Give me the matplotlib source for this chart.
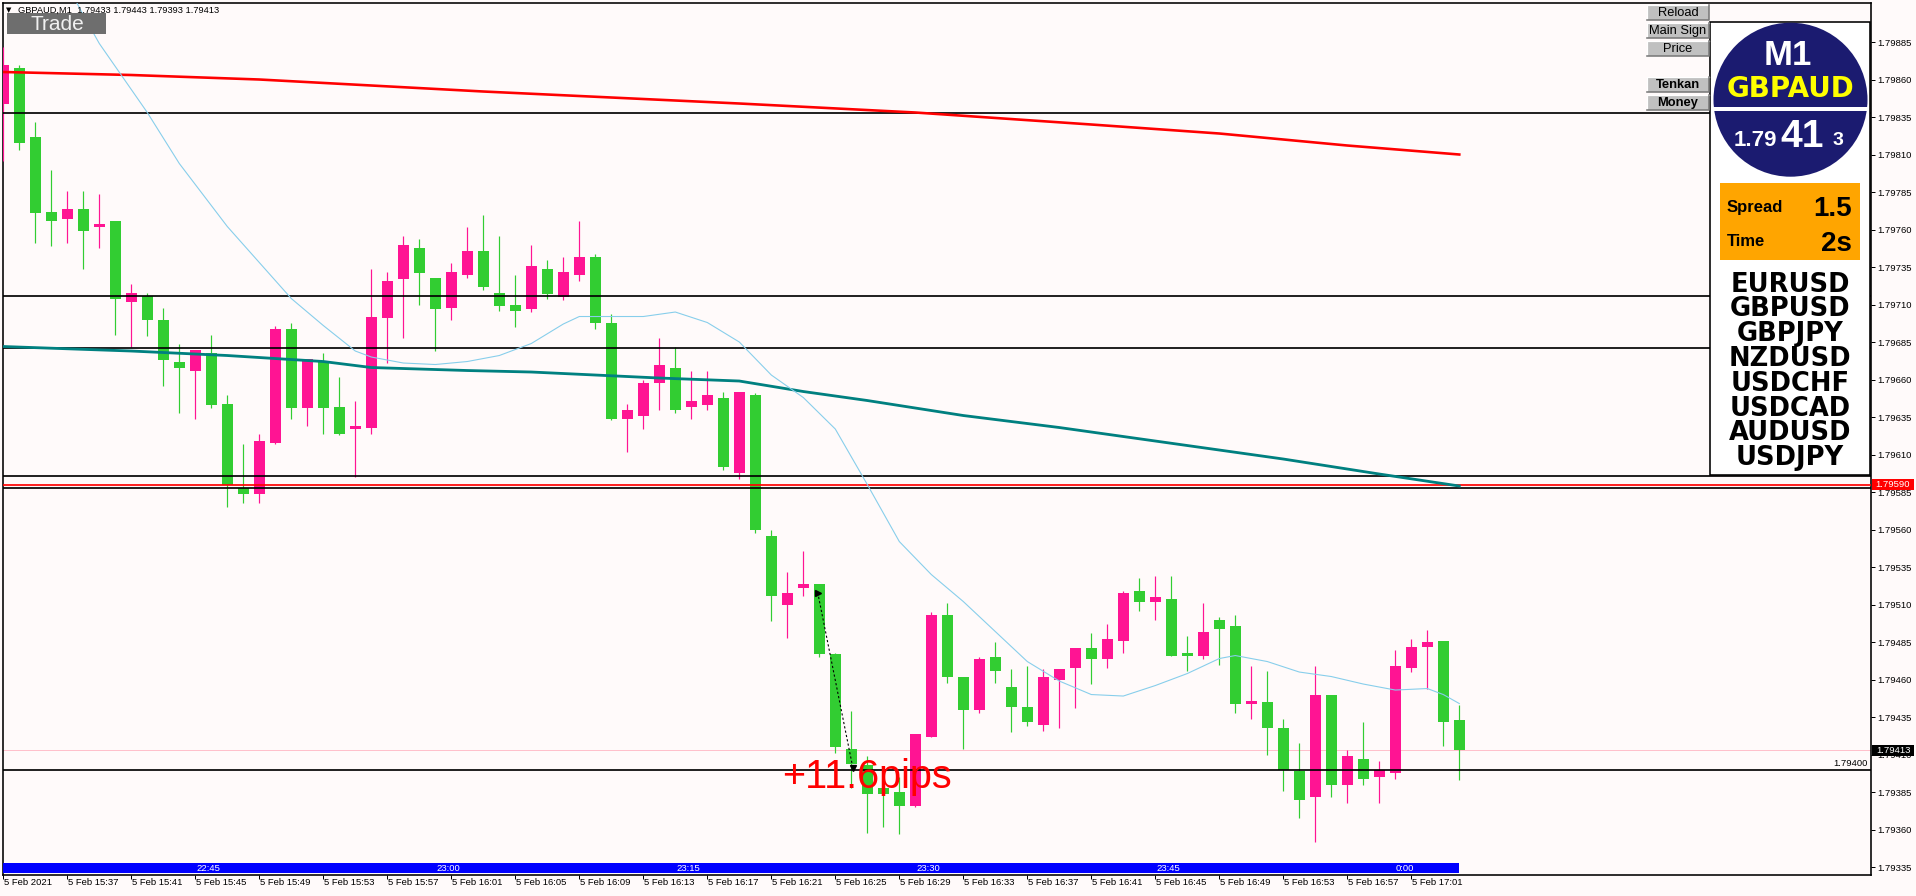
import matplotlib
matplotlib.use("Agg")
import matplotlib.pyplot as plt
from matplotlib.patches import Rectangle, Circle
import numpy as np

plt.rcParams['font.family'] = ['Liberation Sans', 'DejaVu Sans']

# ---------------- data ----------------
symbol = "GBPAUD"
timeframe = "M1"
header_ohlc = ["1.79433", "1.79443", "1.79393", "1.79413"]

opens = [1.79844, 1.79868, 1.79822, 1.79772, 1.79767, 1.79774, 1.79762, 1.79766, 1.79712, 1.79716,
         1.79700, 1.79672, 1.79666, 1.79678, 1.79644, 1.79588, 1.79584, 1.79618, 1.79694, 1.79641,
         1.79672, 1.79642, 1.79627, 1.79628, 1.79701, 1.79727, 1.79748, 1.79728, 1.79708, 1.79730,
         1.79746, 1.79718, 1.79710, 1.79707, 1.79734, 1.79715, 1.79730, 1.79742, 1.79698, 1.79634,
         1.79636, 1.79658, 1.79668, 1.79642, 1.79643, 1.79648, 1.79598, 1.79650, 1.79556, 1.79510,
         1.79521, 1.79524, 1.79477, 1.79414, 1.79403, 1.79388, 1.79385, 1.79376, 1.79422, 1.79503,
         1.79462, 1.79440, 1.79475, 1.79455, 1.79442, 1.79430, 1.79460, 1.79468, 1.79481, 1.79474,
         1.79486, 1.79519, 1.79512, 1.79514, 1.79478, 1.79476, 1.79500, 1.79496, 1.79444, 1.79445,
         1.79428, 1.79399, 1.79382, 1.79450, 1.79390, 1.79407, 1.79395, 1.79398, 1.79468, 1.79482,
         1.79486, 1.79433]
highs = [1.79882, 1.79870, 1.79832, 1.79800, 1.79786, 1.79786, 1.79784, 1.79766, 1.79724, 1.79718,
         1.79708, 1.79684, 1.79680, 1.79690, 1.79650, 1.79617, 1.79624, 1.79696, 1.79698, 1.79674,
         1.79678, 1.79662, 1.79646, 1.79734, 1.79732, 1.79756, 1.79754, 1.79728, 1.79738, 1.79762,
         1.79770, 1.79756, 1.79730, 1.79750, 1.79740, 1.79742, 1.79766, 1.79744, 1.79704, 1.79644,
         1.79660, 1.79688, 1.79682, 1.79666, 1.79666, 1.79652, 1.79652, 1.79651, 1.79560, 1.79532,
         1.79546, 1.79524, 1.79478, 1.79439, 1.79409, 1.79396, 1.79395, 1.79424, 1.79505, 1.79511,
         1.79462, 1.79475, 1.79485, 1.79467, 1.79469, 1.79467, 1.79467, 1.79481, 1.79491, 1.79497,
         1.79519, 1.79528, 1.79529, 1.79529, 1.79489, 1.79511, 1.79502, 1.79503, 1.79469, 1.79466,
         1.79434, 1.79418, 1.79469, 1.79450, 1.79413, 1.79432, 1.79406, 1.79480, 1.79487, 1.79493,
         1.79486, 1.79443]
lows = [1.79806, 1.79813, 1.79751, 1.79749, 1.79751, 1.79734, 1.79748, 1.79690, 1.79682, 1.79689,
        1.79656, 1.79638, 1.79634, 1.79641, 1.79575, 1.79578, 1.79578, 1.79617, 1.79634, 1.79629,
        1.79624, 1.79623, 1.79595, 1.79624, 1.79671, 1.79688, 1.79710, 1.79679, 1.79700, 1.79728,
        1.79720, 1.79706, 1.79695, 1.79705, 1.79714, 1.79713, 1.79726, 1.79694, 1.79633, 1.79612,
        1.79627, 1.79640, 1.79638, 1.79634, 1.79640, 1.79600, 1.79594, 1.79558, 1.79499, 1.79488,
        1.79516, 1.79475, 1.79411, 1.79388, 1.79358, 1.79362, 1.79357, 1.79375, 1.79422, 1.79458,
        1.79414, 1.79438, 1.79458, 1.79425, 1.79429, 1.79426, 1.79428, 1.79441, 1.79457, 1.79468,
        1.79478, 1.79506, 1.79500, 1.79476, 1.79466, 1.79474, 1.79470, 1.79438, 1.79434, 1.79410,
        1.79386, 1.79368, 1.79352, 1.79382, 1.79378, 1.79390, 1.79378, 1.79394, 1.79465, 1.79454,
        1.79416, 1.79393]
closes = [1.79870, 1.79818, 1.79771, 1.79766, 1.79774, 1.79759, 1.79764, 1.79714, 1.79718, 1.79700,
          1.79673, 1.79668, 1.79680, 1.79643, 1.79590, 1.79584, 1.79619, 1.79694, 1.79641, 1.79674,
          1.79641, 1.79624, 1.79629, 1.79702, 1.79726, 1.79750, 1.79731, 1.79707, 1.79732, 1.79746,
          1.79722, 1.79709, 1.79706, 1.79736, 1.79717, 1.79732, 1.79742, 1.79698, 1.79634, 1.79640,
          1.79658, 1.79670, 1.79640, 1.79646, 1.79650, 1.79602, 1.79652, 1.79560, 1.79516, 1.79518,
          1.79524, 1.79477, 1.79415, 1.79404, 1.79384, 1.79384, 1.79376, 1.79424, 1.79503, 1.79462,
          1.79440, 1.79474, 1.79466, 1.79442, 1.79432, 1.79462, 1.79467, 1.79481, 1.79474, 1.79487,
          1.79518, 1.79512, 1.79515, 1.79476, 1.79476, 1.79492, 1.79494, 1.79444, 1.79446, 1.79428,
          1.79400, 1.79380, 1.79450, 1.79390, 1.79409, 1.79394, 1.79400, 1.79469, 1.79482, 1.79485,
          1.79432, 1.79413]

time_label_bars = list(range(0, 89, 4))
time_labels = ["5 Feb 2021", "5 Feb 15:37", "5 Feb 15:41", "5 Feb 15:45", "5 Feb 15:49",
               "5 Feb 15:53", "5 Feb 15:57", "5 Feb 16:01", "5 Feb 16:05", "5 Feb 16:09",
               "5 Feb 16:13", "5 Feb 16:17", "5 Feb 16:21", "5 Feb 16:25", "5 Feb 16:29",
               "5 Feb 16:33", "5 Feb 16:37", "5 Feb 16:41", "5 Feb 16:45", "5 Feb 16:49",
               "5 Feb 16:53", "5 Feb 16:57", "5 Feb 17:01"]
session_label_bars = [12, 27, 42, 57, 72, 87]
session_labels = ["22:45", "23:00", "23:15", "23:30", "23:45", "0:00"]

price_ticks = [1.79335, 1.79360, 1.79385, 1.79410, 1.79435, 1.79460, 1.79485, 1.79510,
               1.79535, 1.79560, 1.79585, 1.79610, 1.79635, 1.79660, 1.79685, 1.79710,
               1.79735, 1.79760, 1.79785, 1.79810, 1.79835, 1.79860, 1.79885]

ma_fast_bars = [0, 3, 5, 6, 9, 11, 14, 16, 18, 20, 22, 23, 25, 27, 29, 31, 33, 35, 36, 38, 40, 42,
                44, 46, 48, 50, 52, 54, 56, 58, 60, 62, 64, 66, 68, 70, 72, 74, 76, 77, 79, 81,
                83, 85, 87, 89, 90, 91]
ma_fast_vals = [1.79986, 1.79943, 1.79903, 1.79884, 1.79838, 1.79804, 1.79762, 1.79738, 1.79714,
                1.79696, 1.79679, 1.79675, 1.79671, 1.79670, 1.79672, 1.79676, 1.79684, 1.79697,
                1.79702, 1.79702, 1.79702, 1.79705, 1.79698, 1.79685, 1.79663, 1.79648, 1.79627,
                1.79590, 1.79552, 1.79530, 1.79512, 1.79492, 1.79472, 1.79459, 1.79450, 1.79449,
                1.79456, 1.79464, 1.79474, 1.79476, 1.79472, 1.79465, 1.79462, 1.79457, 1.79453,
                1.79454, 1.79450, 1.79444]
ma_mid_bars = [0, 8, 14, 20, 23, 29, 33, 37, 41, 46, 50, 54, 60, 66, 68, 74, 80, 86, 91]
ma_mid_vals = [1.79682, 1.79679, 1.79676, 1.79672, 1.79668, 1.79666, 1.79665, 1.79663, 1.79661,
               1.79659, 1.79652, 1.79646, 1.79636, 1.79628, 1.79625, 1.79616, 1.79607, 1.79597,
               1.79589]
ma_slow_bars = [0, 8, 16, 23, 30, 38, 46, 57, 68, 76, 84, 91]
ma_slow_vals = [1.79865, 1.79863, 1.79860, 1.79856, 1.79852, 1.79848, 1.79844, 1.79838, 1.79830,
                1.79824, 1.79816, 1.79810]

black_levels = [1.79838, 1.79716, 1.79681, 1.79596, 1.79588, 1.79400]
red_level = 1.79590
bid_price = 1.79413
labelled_level = 1.79400

trade_bars = [50.9, 53.1]
trade_prices = [1.79518, 1.79401]
trade_text = "+11.6pips"

buttons = ["Reload", "Main Sign", "Price", "Tenkan", "Money"]
watch_list = ["EURUSD", "GBPUSD", "GBPJPY", "NZDUSD", "USDCHF", "USDCAD", "AUDUSD", "USDJPY"]
spread_text = "1.5"
time_text = "2s"
price_big = ["1.79", "41", "3"]

# ---------------- style / layout ----------------
W, H, DPI = 1916, 896, 100
BG = "#FFFAFA"
GREEN = "#32CD32"
PINK = "#FF1493"
PX = 72.0 / DPI  # points per pixel
SMALL = 6.8

PL, PR, PT, PB = 3, 1871, 3, 875
BAR_PX, X0_PX = 16.0, 3.3
Y_TOP, Y_BOT = 1.79911, 1.793297

fig = plt.figure(figsize=(W / DPI, H / DPI), dpi=DPI, facecolor=BG)
ax = fig.add_axes([PL / W, 1 - PB / H, (PR - PL) / W, (PB - PT) / H])
ax.set_facecolor(BG)
ax.set_xlim((PL - X0_PX) / BAR_PX, (PR - X0_PX) / BAR_PX)
ax.set_ylim(Y_BOT, Y_TOP)

n = len(opens)
idx = np.arange(n)
o = np.array(opens); h = np.array(highs); l = np.array(lows); c = np.array(closes)
cols = np.where(c >= o, PINK, GREEN)
px_price = (Y_TOP - Y_BOT) / (PB - PT)

# bid line
ax.axhline(bid_price, color="#FFC0CB", lw=1 * PX, zorder=1)

# candles
ax.vlines(idx, l, h, colors=cols, lw=1.2 * PX, zorder=3)
body_h = np.maximum(np.abs(c - o), 1.5 * px_price)
ax.bar(idx, body_h, bottom=np.minimum(o, c), width=11 / BAR_PX, color=cols,
       edgecolor="none", zorder=4)

# horizontal levels
for lv in black_levels:
    ax.axhline(lv, color="black", lw=1.7 * PX, zorder=5)
ax.axhline(red_level, color="#FF0000", lw=1.7 * PX, zorder=5)

# moving averages
ax.plot(ma_slow_bars, ma_slow_vals, color="#FF0000", lw=2.6 * PX, zorder=6)
ax.plot(ma_mid_bars, ma_mid_vals, color="#008080", lw=2.8 * PX, zorder=6)
ax.plot(ma_fast_bars, ma_fast_vals, color="#87CEEB", lw=1.1 * PX, zorder=6)

# trade arrow
ax.plot(trade_bars, trade_prices, color="black", lw=1.1 * PX, ls=(0, (2, 2)), zorder=7)
ax.plot(trade_bars[0], trade_prices[0], marker=">", color="black", ms=5, zorder=8)
ax.plot(trade_bars[1], trade_prices[1], marker="v", color="black", ms=4, zorder=8)
ax.text(48.7, 1.79388, trade_text, color="#FF0000", fontsize=28.5, ha="left",
        va="baseline", zorder=9)

# level label
ax.text(1.0 - 3 / (PR - PL), labelled_level + 1.3 * px_price, f"{labelled_level:.5f}",
        transform=ax.get_yaxis_transform(), ha="right", va="bottom", fontsize=SMALL, zorder=9)

# axes styling
for sp in ax.spines.values():
    sp.set_linewidth(1.6 * PX)
    sp.set_color("black")
ax.yaxis.tick_right()
ax.set_yticks(price_ticks)
ax.set_yticklabels([f"{p:.5f}" for p in price_ticks], fontsize=SMALL)
ax.tick_params(axis="y", direction="out", length=4 * PX, width=1 * PX, pad=2 * PX)
ax.set_xticks(time_label_bars)
ax.set_xticklabels([""] * len(time_label_bars))
ax.tick_params(axis="x", direction="out", length=4 * PX, width=1 * PX)

xax = ax.get_xaxis_transform()
for b, lab in zip(time_label_bars, time_labels):
    ax.text(b + 0.05, -(882.5 - PB) / (PB - PT), lab, transform=xax, ha="left",
            va="center", fontsize=SMALL, clip_on=False)

# session bar
ax.add_patch(Rectangle((0, (PB - 873) / (PB - PT)), n - 1, 10 / (PB - PT), transform=xax,
                       facecolor="#0000FF", edgecolor="none", zorder=9))
for b, lab in zip(session_label_bars, session_labels):
    ax.text(b + 0.05, (PB - 868) / (PB - PT), lab, transform=xax, ha="left", va="center",
            fontsize=SMALL, color="white", zorder=10)

# price boxes on right axis
ytr = ax.get_yaxis_transform()
for price, fc in [(red_level, "#FF0000"), (bid_price, "black")]:
    ax.add_patch(Rectangle((1 + 1 / (PR - PL), price - 5.5 * px_price), 42 / (PR - PL),
                           11 * px_price, transform=ytr, facecolor=fc, edgecolor="none",
                           clip_on=False, zorder=10))
    ax.text(1 + 22 / (PR - PL), price, f"{price:.5f}", transform=ytr, ha="center",
            va="center", fontsize=SMALL, color="white", clip_on=False, zorder=11)

# ---------------- overlay (pixel coordinates) ----------------
ov = fig.add_axes([0, 0, 1, 1], zorder=5)
ov.set_xlim(0, W)
ov.set_ylim(H, 0)
ov.axis("off")
ov.patch.set_alpha(0)

ov.text(6, 10, "\u25BC", fontsize=5, va="center", ha="left", family="DejaVu Sans")
ov.text(18, 10, f"{symbol},{timeframe}  " + " ".join(header_ohlc), fontsize=6.7,
        va="center", ha="left")
ov.add_patch(Rectangle((7, 13), 99, 21, facecolor="#6E6E6E", edgecolor="none"))
ov.text(57, 24, "Trade", fontsize=15, color="#F0F0F0", ha="center", va="center")

# buttons
for lab, y0 in zip(buttons, [5, 23, 41, 77, 95]):
    ov.add_patch(Rectangle((1647, y0), 62, 15, facecolor="#C0C0C0", edgecolor="none"))
    ov.plot([1647, 1647, 1709], [y0 + 15, y0, y0], color="white", lw=1.2 * PX)
    ov.plot([1647, 1709, 1709], [y0 + 15, y0 + 15, y0], color="#7A7A7A", lw=1.6 * PX)
    bold = lab in ("Tenkan", "Money")
    ov.text(1678, y0 + 7.8, lab, fontsize=9.3, ha="center", va="center",
            weight="bold" if bold else "normal", color="black")

# panel
ov.add_patch(Rectangle((1710, 21.7), 160, 453.3, facecolor="white", edgecolor="black",
                       lw=1.6 * PX))
ov.add_patch(Circle((1790.5, 99.7), 77, facecolor="#1B1B70", edgecolor="none"))
ov.add_patch(Rectangle((1712, 106.8), 157, 4.2, facecolor="white", edgecolor="none"))
ov.text(1788, 65, timeframe, fontsize=25, weight="bold", color="white", ha="center",
        va="baseline")
ov.text(1791, 97, symbol, fontsize=20, weight="bold", color="#FFFF00", ha="center",
        va="baseline", family="DejaVu Sans")
ov.text(1777, 146, price_big[0], fontsize=16, weight="bold", color="white", ha="right",
        va="baseline")
ov.text(1802, 146.7, price_big[1], fontsize=28, weight="bold", color="white", ha="center",
        va="baseline")
ov.text(1838, 145, price_big[2], fontsize=14, weight="bold", color="white", ha="center",
        va="baseline")

ov.add_patch(Rectangle((1720, 183), 140, 77, facecolor="#FFA500", edgecolor="none"))
ov.text(1727, 211.7, "Spread", fontsize=12, weight="bold", ha="left", va="baseline")
ov.text(1852, 216, spread_text, fontsize=20, weight="bold", ha="right", va="baseline")
ov.text(1727, 246, "Time", fontsize=12, weight="bold", ha="left", va="baseline")
ov.text(1852, 250.7, time_text, fontsize=20, weight="bold", ha="right", va="baseline")

for k, sym in enumerate(watch_list):
    ov.text(1790, 291.7 + 24.8 * k, sym, fontsize=18.5, weight="bold", ha="center",
            va="baseline", family="DejaVu Sans", color="black")

fig.savefig("out.png", dpi=DPI, facecolor=BG)
